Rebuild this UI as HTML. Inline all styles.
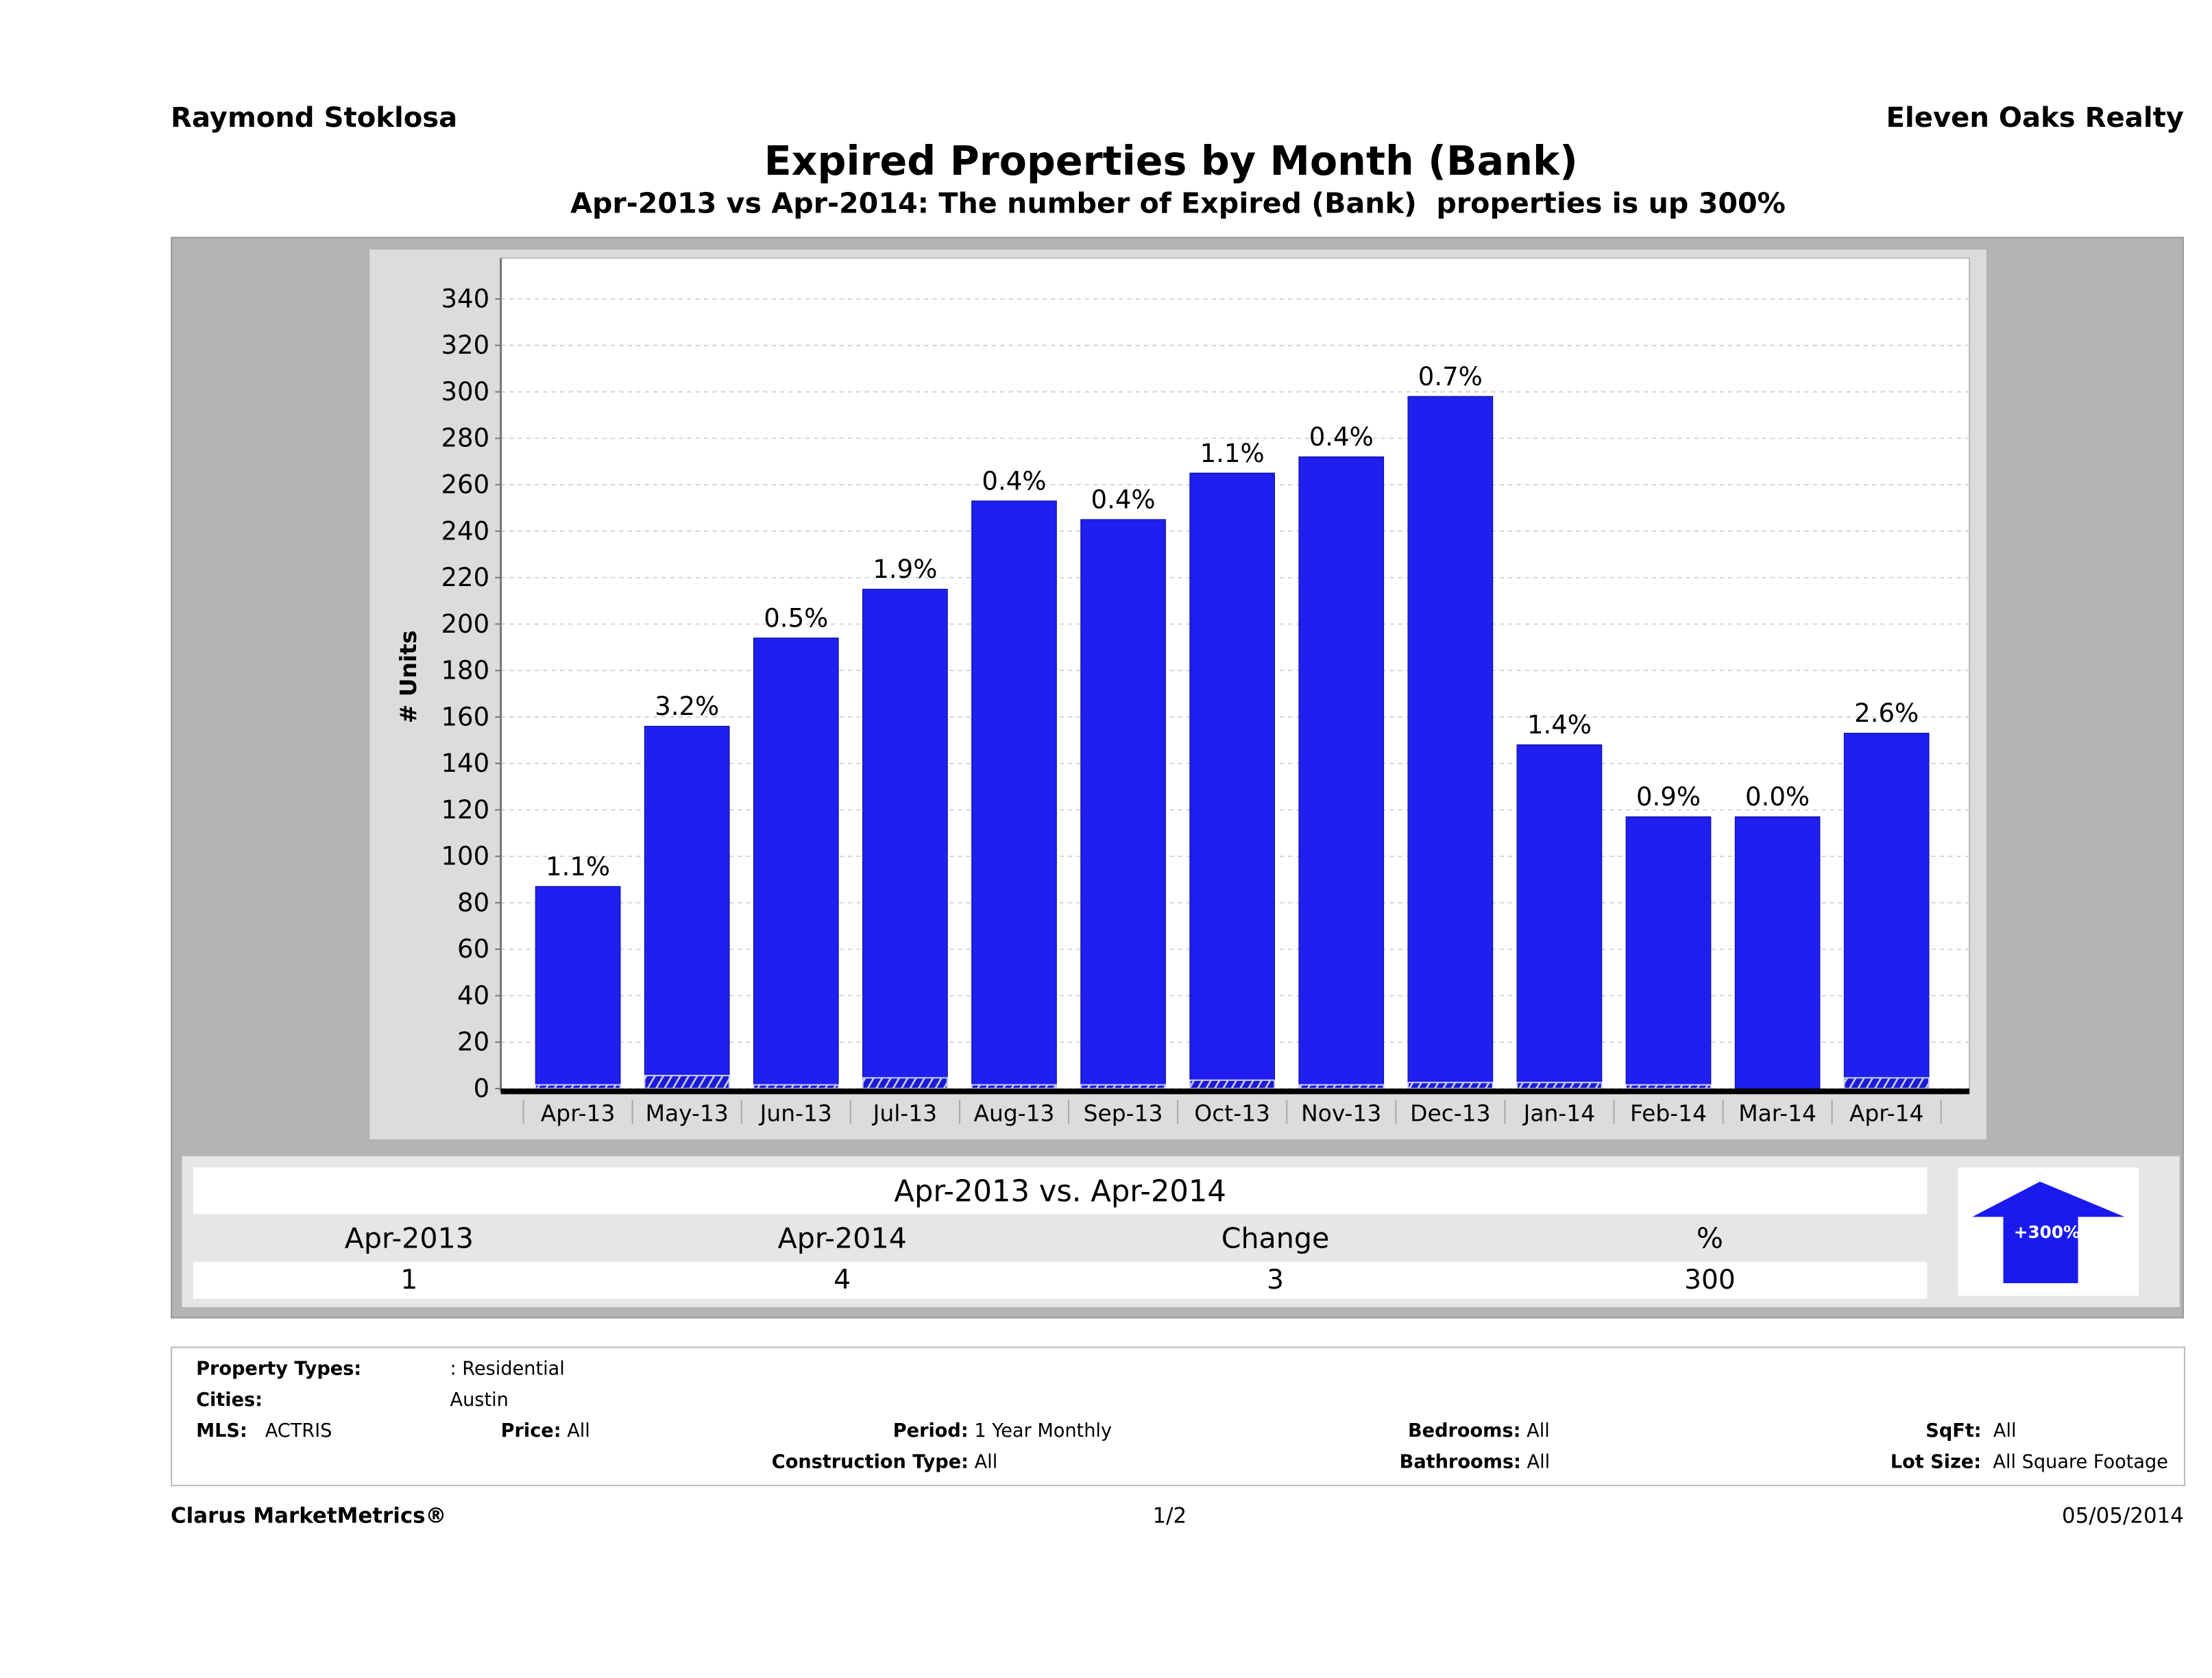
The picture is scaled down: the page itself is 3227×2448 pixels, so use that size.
<!DOCTYPE html>
<html><head><meta charset="utf-8">
<style>
html,body{margin:0;padding:0;background:#fff;}
body{width:3227px;height:2448px;overflow:hidden;}
#wrap{position:absolute;left:0;top:0;width:1568px;height:1190px;transform:scale(2.0581,2.0571);transform-origin:0 0;font-family:"DejaVu Sans","Liberation Sans",sans-serif;color:#000;}
.abs{position:absolute;}
.b{font-weight:bold;}
.ft{font-size:13.2px;}
</style></head><body>
<div id="wrap">
<div class="abs b" style="left:121px;top:72px;font-size:19.5px;">Raymond Stoklosa</div>
<div class="abs b" style="right:20px;top:72px;font-size:19.5px;">Eleven Oaks Realty</div>
<div class="abs b" style="left:0;width:1660px;top:98px;text-align:center;font-size:28.5px;">Expired Properties by Month (Bank)</div>
<div class="abs b" style="left:0;width:1670px;top:132px;text-align:center;font-size:20px;">Apr-2013 vs Apr-2014: The number of Expired (Bank)&nbsp; properties is up 300%</div>

<div class="abs" style="left:121px;top:168px;width:1425px;height:765px;background:#b3b3b3;border:1px solid #999;"></div>
<div class="abs" style="left:262px;top:177px;width:1146px;height:631px;background:#dcdcdc;"></div>
<svg class="abs" style="left:0;top:0" width="1568" height="1190" id="chart"></svg>

<div class="abs" style="left:129px;top:820px;width:1416px;height:107px;background:#e6e6e6;"></div>
<div class="abs" style="left:137px;top:828px;width:1229px;height:33px;background:#fff;text-align:center;font-size:21px;line-height:35px;">Apr-2013 vs. Apr-2014</div>
<div class="abs" style="left:137px;top:895px;width:1229px;height:26px;background:#fff;"></div>
<div class="abs" style="left:137px;top:866px;width:1229px;font-size:20px;">
 <span class="abs" style="left:53px;width:200px;text-align:center;">Apr-2013</span>
 <span class="abs" style="left:360px;width:200px;text-align:center;">Apr-2014</span>
 <span class="abs" style="left:667px;width:200px;text-align:center;">Change</span>
 <span class="abs" style="left:975px;width:200px;text-align:center;">%</span>
</div>
<div class="abs" style="left:137px;top:897px;width:1229px;font-size:19px;">
 <span class="abs" style="left:53px;width:200px;text-align:center;">1</span>
 <span class="abs" style="left:360px;width:200px;text-align:center;">4</span>
 <span class="abs" style="left:667px;width:200px;text-align:center;">3</span>
 <span class="abs" style="left:975px;width:200px;text-align:center;">300</span>
</div>
<div class="abs" style="left:1388px;top:828px;width:128px;height:91px;background:#fff;">
 <svg width="128" height="91"><polygon points="10,35 58,10 118,35 85,35 85,82 32,82 32,35" fill="#1a1aef"/>
 <text x="63" y="50" text-anchor="middle" fill="#fff" font-size="12" font-weight="bold" font-family="DejaVu Sans, sans-serif">+300%</text></svg>
</div>

<div class="abs" style="left:121px;top:955px;width:1426px;height:97px;border:1px solid #bbb;">
 <div class="abs ft b" style="left:17px;top:8px">Property Types:</div><div class="abs ft" style="left:197px;top:8px">: Residential</div>
 <div class="abs ft b" style="left:17px;top:30px">Cities:</div><div class="abs ft" style="left:197px;top:30px">Austin</div>
 <div class="abs ft" style="left:17px;top:52px"><b>MLS:</b>&nbsp;&nbsp; ACTRIS</div>
 <div class="abs ft" style="left:233px;top:52px"><b>Price:</b> All</div>
 <div class="abs ft" style="left:511px;top:52px"><b>Period:</b> 1 Year Monthly</div>
 <div class="abs ft" style="left:425px;top:74px"><b>Construction Type:</b> All</div>
 <div class="abs ft" style="left:876px;top:52px"><b>Bedrooms:</b> All</div>
 <div class="abs ft" style="left:870px;top:74px"><b>Bathrooms:</b> All</div>
 <div class="abs ft" style="left:1243px;top:52px"><b>SqFt:</b>&nbsp; All</div>
 <div class="abs ft" style="left:1218px;top:74px"><b>Lot Size:</b>&nbsp; All Square Footage</div>
</div>
<div class="abs b" style="left:121px;top:1066px;font-size:15px;">Clarus MarketMetrics®</div>
<div class="abs" style="left:817px;top:1066px;font-size:15px;">1/2</div>
<div class="abs" style="right:20px;top:1066px;font-size:15px;">05/05/2014</div>
</div>
<script>
const categories=["Apr-13","May-13","Jun-13","Jul-13","Aug-13","Sep-13","Oct-13","Nov-13","Dec-13","Jan-14","Feb-14","Mar-14","Apr-14"];
const totalValues=[87,156,194,215,253,245,265,272,298,148,117,117,153];
const bankValues=[1,5,1,4,1,1,3,1,2,2,1,0,4];
const pctLabels=["1.1%","3.2%","0.5%","1.9%","0.4%","0.4%","1.1%","0.4%","0.7%","1.4%","0.9%","0.0%","2.6%"];
const yTicks=[0,20,40,60,80,100,120,140,160,180,200,220,240,260,280,300,320,340];
const NS="http://www.w3.org/2000/svg";
const svg=document.getElementById('chart');
const PL=355,PR=1396,PT=183,PB=775,Y0=772,YMAX=340,YTOP=212;
const bandStart=371,bandW=77.3;
function y(v){return Y0-(v/YMAX)*(Y0-YTOP);}
function xc(i){return bandStart+bandW*(i+0.5);}
function mk(t,a){const e=document.createElementNS(NS,t);for(const k in a)e.setAttribute(k,a[k]);svg.appendChild(e);return e;}
const defs=mk('defs',{});
defs.innerHTML='<pattern id="hatch" width="6" height="6" patternUnits="userSpaceOnUse" patternTransform="skewX(-30)"><rect width="6" height="6" fill="#1a1ad8"/><rect x="4" width="1.5" height="6" fill="#ccd"/></pattern>';
let r=mk('rect',{x:PL,y:PT,width:PR-PL,height:PB-PT,fill:'#fff',stroke:'#bbb'});


yTicks.forEach(t=>{
 const g=mk('line',{x1:PL,x2:PR,y1:y(t),y2:y(t),stroke:'#ccc','stroke-dasharray':'3,3','stroke-width':0.8});
 
 
 mk('line',{x1:PL-4,x2:PL,y1:y(t),y2:y(t),stroke:'#777'});
 const tx=mk('text',{x:PL-8,y:y(t)+6,'text-anchor':'end','font-size':18,'font-family':'DejaVu Sans, sans-serif'});
 tx.textContent=t;
 
 
});
mk('line',{x1:PL,x2:PL,y1:PT,y2:Y0+2,stroke:'#777','stroke-width':1.5});
categories.forEach((c,i)=>{
 const bx=xc(i)-30;
 const b=mk('rect',{x:bx,y:y(totalValues[i]),width:60,height:Y0-y(totalValues[i]),fill:'#1f1fef',stroke:'#1010a0','stroke-width':0.6});
 
 
 const h=Math.max(Y0-y(bankValues[i]),0);
 if(h>0){const hb=mk('rect',{x:bx,y:Y0-h-1,width:60,height:h+1,fill:'url(#hatch)',stroke:'#ccf','stroke-width':1});
  
  }
 const lb=mk('text',{x:xc(i),y:y(totalValues[i])-8,'text-anchor':'middle','font-size':18,'font-family':'DejaVu Sans, sans-serif'});
 lb.textContent=pctLabels[i];
 
 
 const xl=mk('text',{x:xc(i),y:795,'text-anchor':'middle','font-size':16,'font-family':'DejaVu Sans, sans-serif'});
 xl.textContent=c;
 
 
 mk('line',{x1:bandStart+bandW*i,x2:bandStart+bandW*i,y1:780,y2:797,stroke:'#aaa'});
});
mk('line',{x1:bandStart+bandW*13,x2:bandStart+bandW*13,y1:780,y2:797,stroke:'#aaa'});
mk('rect',{x:PL,y:Y0,width:PR-PL,height:4,fill:'#000'});
const yt=mk('text',{x:0,y:0,transform:'translate(295,480) rotate(-90)','text-anchor':'middle','font-size':16,'font-weight':'bold','font-family':'DejaVu Sans, sans-serif'});
yt.textContent='# Units';


</script>
</body></html>
